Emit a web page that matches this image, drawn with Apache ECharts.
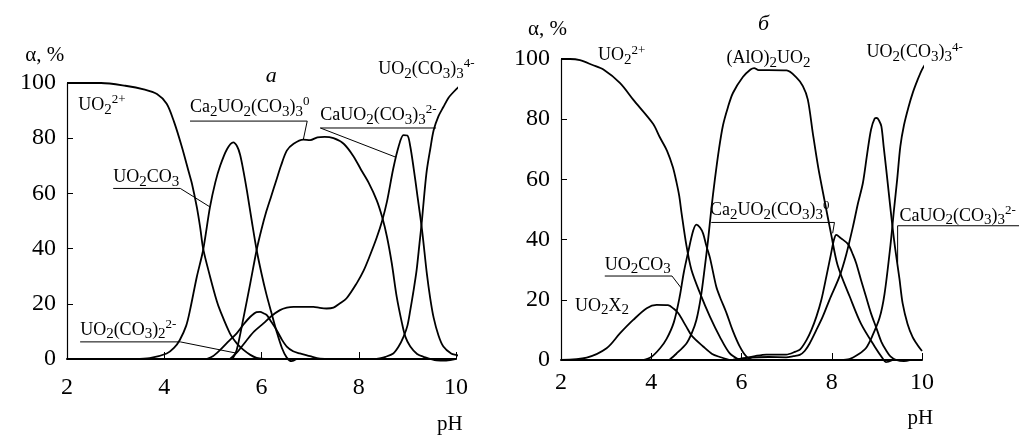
<!DOCTYPE html>
<html>
<head>
<meta charset="utf-8">
<script src="https://cdn.jsdelivr.net/npm/echarts@6/dist/echarts.min.js"></script>
<style>
html, body { margin: 0; padding: 0; background: #fff; }
#main { width: 1021px; height: 437px; }
</style>
</head>
<body>
<div id="main"></div>
<script>
// оси: pH и доля α, %
var xTicks = [2, 4, 6, 8, 10];
var yTicks = [0, 20, 40, 60, 80, 100];

// панель а  [pH, α]
var uo2_a = [[2,100],[2.7,100],[3.2,99],[3.6,97.6],[3.85,96],[4.05,92.5],[4.2,86],[4.36,77],[4.5,68],[4.57,63.5],[4.67,55],[4.74,47.5],[4.8,40],[4.94,30],[5.08,21],[5.15,17.5],[5.35,9.3],[5.5,5.5],[5.63,3.3],[5.77,1.5],[5.9,0.4],[6.05,0]];
var uo2co3_a = [[3.4,0],[3.7,0.3],[4.05,2],[4.2,4],[4.32,6.9],[4.45,12],[4.53,17.7],[4.67,29.8],[4.8,39.5],[4.94,55],[5.05,64],[5.15,70],[5.29,76],[5.42,78.5],[5.5,77],[5.56,74],[5.63,68],[5.7,61],[5.8,50],[5.9,39.5],[6.0,31],[6.1,23.5],[6.2,17],[6.31,10],[6.42,4],[6.52,0.5],[6.62,-0.8],[6.72,0]];
var uo2co32_a = [[4.87,0],[5.0,1],[5.15,3.3],[5.3,6],[5.49,9.3],[5.63,12.5],[5.77,15.3],[5.9,17],[5.97,17.1],[6.05,16.5],[6.11,15.9],[6.2,13.5],[6.31,10.5],[6.42,7],[6.52,4.5],[6.65,2.8],[6.79,2],[7.0,1],[7.14,0.3],[7.3,0]];
var ca2_a = [[5.4,0],[5.49,3.3],[5.63,15],[5.77,27.5],[5.9,39.5],[6.0,47],[6.1,53.5],[6.2,59],[6.3,64.5],[6.4,70],[6.52,75.5],[6.66,78],[6.86,79.5],[7.0,79.3],[7.15,80.3],[7.3,80.5],[7.48,80],[7.69,78],[7.89,73.5],[8.05,68.5],[8.2,64],[8.37,57.5],[8.48,51.5],[8.58,44.3],[8.68,34.6],[8.78,22.6],[8.89,12.9],[8.96,8],[9.06,4.5],[9.2,1.8],[9.33,0.8],[9.6,-0.5],[9.8,-0.6],[10.0,0]];
var cauo2_a = [[5.35,0],[5.5,2.5],[5.7,6.9],[5.85,10],[6.04,12.9],[6.2,15.5],[6.38,17.7],[6.52,18.6],[6.66,18.9],[7.07,18.9],[7.2,18.5],[7.34,18.3],[7.48,18.6],[7.6,20],[7.75,22],[7.96,27.5],[8.1,32],[8.23,37.5],[8.37,44],[8.48,50],[8.58,57],[8.71,69],[8.82,77],[8.92,81.1],[9.0,81],[9.06,77],[9.13,69],[9.2,60],[9.3,47],[9.4,31],[9.47,22],[9.54,15],[9.64,8.5],[9.74,4.5],[9.9,2],[10.02,1.4],[10.12,0.6],[10.22,0]];
var uo2co33_a = [[8.37,0],[8.55,0.8],[8.71,2],[8.82,4.5],[8.92,8],[9.0,12],[9.06,17.7],[9.12,24],[9.19,32.2],[9.25,42],[9.3,50.3],[9.35,60],[9.4,68.4],[9.47,76],[9.54,82.9],[9.64,88],[9.74,91.3],[9.84,94.5],[9.92,96.2],[10.05,98.5],[10.12,99.3]];

// панель б
var uo2_b = [[2,100],[2.2,100],[2.42,99.6],[2.7,98],[2.94,96.5],[3.31,92],[3.6,86.5],[4.04,78.5],[4.19,74],[4.35,69.5],[4.48,64],[4.56,59],[4.62,54.5],[4.67,49],[4.78,38],[4.89,30],[5.08,22.2],[5.3,14.4],[5.52,7.7],[5.74,2.2],[5.96,0]];
var uo2x2_b = [[2,0],[2.57,0.8],[3.01,3.9],[3.31,8.9],[3.6,13.3],[3.9,17.2],[4.12,18.3],[4.37,18.2],[4.5,17],[4.6,15.5],[4.78,11],[4.9,8],[5.15,4.5],[5.35,2],[5.52,1],[5.74,0]];
var uo2co3_b = [[3.82,0],[4.0,1],[4.2,4],[4.34,7],[4.5,12.5],[4.63,21],[4.72,29],[4.82,36],[4.93,43],[5.0,45],[5.08,44],[5.15,42],[5.22,38],[5.3,34],[5.44,24.4],[5.52,21],[5.67,15.5],[5.8,10],[5.96,4.5],[6.11,1.1],[6.25,0]];
var alo_b = [[4.4,0],[4.55,2],[4.78,5.5],[4.9,9],[5.0,13.3],[5.1,21],[5.18,30],[5.26,40],[5.33,50],[5.41,60],[5.5,70],[5.59,78],[5.7,84],[5.81,88.7],[6.03,94],[6.2,96.5],[6.28,97],[6.38,96.3],[6.6,96.3],[7.0,96.2],[7.21,94],[7.36,91],[7.47,86.5],[7.58,75.4],[7.7,64],[7.84,53],[7.99,41.5],[8.13,31.5],[8.4,21],[8.65,12],[8.95,4.5],[9.13,0.5],[9.2,-0.7],[9.35,0]];
var ca2_b = [[5.8,0],[6.03,0.5],[6.3,1.3],[6.55,1.8],[6.99,1.8],[7.2,2.8],[7.3,3.5],[7.44,6.6],[7.55,10],[7.66,14.4],[7.77,20],[7.88,27.7],[7.98,35],[8.05,40],[8.1,41.6],[8.2,40.5],[8.36,38.5],[8.47,35],[8.54,32.2],[8.65,26.5],[8.76,21],[8.87,15.5],[8.98,11],[9.1,6],[9.2,3.3],[9.3,1.2],[9.43,0],[9.6,-0.4],[9.75,0]];
var cauo2_b = [[5.8,0],[6.2,0.8],[6.6,1],[6.99,0.9],[7.15,1.3],[7.29,1.7],[7.4,3],[7.51,5.5],[7.66,10],[7.8,14.4],[7.95,20],[8.17,27.7],[8.32,35],[8.47,44.3],[8.58,52],[8.69,58.8],[8.78,68],[8.87,76.5],[8.95,80.2],[9.0,80.4],[9.05,79.5],[9.1,77.6],[9.15,71],[9.2,64.3],[9.26,56],[9.32,47.7],[9.38,40],[9.43,34.4],[9.5,27],[9.57,18.9],[9.68,12],[9.79,7.7],[9.9,5],[10.0,3]];
var uo2co33_b = [[8.2,0],[8.39,0.3],[8.6,2],[8.76,4],[8.9,8],[9.06,14],[9.17,22],[9.3,38],[9.38,50],[9.45,60],[9.52,71],[9.6,78],[9.7,84],[9.8,89],[9.9,93],[10.0,96.5],[10.09,98.7]];

var FONT = 'Liberation Serif';

function curve(name, data, g) {
    return {
        name: name, type: 'line', xAxisIndex: g, yAxisIndex: g,
        data: data, symbol: 'none', smooth: 0.3, clip: false, silent: true,
        lineStyle: { color: '#000', width: 1.8 }
    };
}

function xAx(g, margin) {
    return {
        gridIndex: g, type: 'value', min: 2, max: 10, interval: 2,
        axisLine: { show: true, onZero: false, lineStyle: { color: '#000', width: 2 } },
        axisTick: { show: true, inside: true, length: 7, lineStyle: { color: '#000', width: 1 } },
        axisLabel: { color: '#000', fontFamily: FONT, fontSize: 24, margin: margin },
        splitLine: { show: false }
    };
}
function yAx(g) {
    return {
        gridIndex: g, type: 'value', min: 0, max: 100, interval: 20,
        axisLine: { show: true, lineStyle: { color: '#000', width: 1.2 } },
        axisTick: { show: true, inside: true, length: 6, lineStyle: { color: '#000', width: 1 } },
        axisLabel: { color: '#000', fontFamily: FONT, fontSize: 24, margin: 11 },
        splitLine: { show: false }
    };
}

var chart = echarts.init(document.getElementById('main'));
chart.setOption({
    animation: false,
    backgroundColor: '#fff',
    grid: [
        { left: 67, top: 83, width: 389, height: 276 },
        { left: 561, top: 59, width: 361, height: 301 }
    ],
    xAxis: [xAx(0, 17), xAx(1, 11)],
    yAxis: [yAx(0), yAx(1)],
    series: [
        curve('UO2 2+', uo2_a, 0),
        curve('UO2CO3', uo2co3_a, 0),
        curve('UO2(CO3)2 2-', uo2co32_a, 0),
        curve('Ca2UO2(CO3)3', ca2_a, 0),
        curve('CaUO2(CO3)3 2-', cauo2_a, 0),
        curve('UO2(CO3)3 4-', uo2co33_a, 0),
        curve('UO2 2+', uo2_b, 1),
        curve('UO2X2', uo2x2_b, 1),
        curve('UO2CO3', uo2co3_b, 1),
        curve('(AlO)2UO2', alo_b, 1),
        curve('Ca2UO2(CO3)3', ca2_b, 1),
        curve('CaUO2(CO3)3 2-', cauo2_b, 1),
        curve('UO2(CO3)3 4-', uo2co33_b, 1)
    ]
});

// подписи: at - левый край текста (в координатах pH, α), line - подчёркивание и выноска
var rich = {
    n: { fontFamily: FONT, fontSize: 18, lineHeight: 24, fill: '#000' },
    s: { fontFamily: FONT, fontSize: 15, verticalAlign: 'bottom', fill: '#000' },
    p: { fontFamily: FONT, fontSize: 13, verticalAlign: 'top', fill: '#000' },
    t: { fontFamily: FONT, fontSize: 21, lineHeight: 24, fill: '#000' },
    i: { fontFamily: FONT, fontSize: 22, fontStyle: 'italic', lineHeight: 24, fill: '#000' }
};
var notes = [
    { g: 0, text: '{t|α, %}', at: [1.14, 110] },
    { g: 0, text: '{i|а}', at: [6.2, 102.4], align: 'center' },
    { g: 0, text: '{n|UO}{s|2}{p|2+}', at: [2.23, 91.9] },
    { g: 0, text: '{n|Ca}{s|2}{n|UO}{s|2}{n|(CO}{s|3}{n|)}{s|3}{p|0}', at: [4.53, 91.2], line: [[4.53, 86.2], [6.94, 86.2], [6.86, 79.5]] },
    { g: 0, text: '{n|CaUO}{s|2}{n|(CO}{s|3}{n|)}{s|3}{p|2-}', at: [7.21, 88.3], line: [[9.59, 83.7], [7.21, 83.7], [8.75, 73.2]] },
    { g: 0, text: '{n|UO}{s|2}{n|CO}{s|3}', at: [2.95, 65.9], line: [[2.95, 61.8], [4.33, 61.8], [4.94, 55.1]] },
    { g: 0, text: '{n|UO}{s|2}{n|(CO}{s|3}{n|)}{s|2}{p|2-}', at: [2.27, 10.5], line: [[2.27, 6.2], [4.33, 6.2], [5.49, 2.1]] },
    { g: 0, text: '{n|UO}{s|2}{n|(CO}{s|3}{n|)}{s|3}{p|4-}', at: [8.4, 105] },
    { g: 0, text: '{t|pH}', at: [9.61, -23.9] },
    { g: 1, text: '{t|α, %}', at: [1.27, 109.7] },
    { g: 1, text: '{i|б}', at: [6.49, 111.7], align: 'center' },
    { g: 1, text: '{n|UO}{s|2}{p|2+}', at: [2.82, 101.1] },
    { g: 1, text: '{n|(AlO)}{s|2}{n|UO}{s|2}', at: [5.67, 100.1] },
    { g: 1, text: '{n|UO}{s|2}{n|(CO}{s|3}{n|)}{s|3}{p|4-}', at: [8.77, 102.1] },
    { g: 1, text: '{n|UO}{s|2}{n|CO}{s|3}', at: [2.97, 31.6], line: [[2.97, 27.9], [4.46, 27.9], [4.67, 23.8]] },
    { g: 1, text: '{n|UO}{s|2}{n|X}{s|2}', at: [2.31, 18] },
    { g: 1, text: '{n|Ca}{s|2}{n|UO}{s|2}{n|(CO}{s|3}{n|)}{s|3}{p|0}', at: [5.3, 49.6], line: [[5.33, 45.7], [8.06, 45.7], [8.02, 42.1]] },
    { g: 1, text: '{n|CaUO}{s|2}{n|(CO}{s|3}{n|)}{s|3}{p|2-}', at: [9.5, 47.9], line: [[12.15, 44.6], [9.46, 44.6], [9.46, 32.3]] },
    { g: 1, text: '{t|pH}', at: [9.68, -19.3] }
];

var graphic = [];
notes.forEach(function (a) {
    var p = chart.convertToPixel({ gridIndex: a.g }, a.at);
    graphic.push({
        type: 'text', silent: true,
        style: {
            text: a.text, rich: rich, x: p[0], y: p[1],
            textAlign: a.align || 'left', textVerticalAlign: 'middle',
            align: a.align || 'left', verticalAlign: 'middle'
        }
    });
    if (a.line) {
        graphic.push({
            type: 'polyline', silent: true,
            shape: { points: a.line.map(function (q) { return chart.convertToPixel({ gridIndex: a.g }, q); }) },
            style: { stroke: '#000', lineWidth: 1, fill: null }
        });
    }
});
chart.setOption({ graphic: graphic });
</script>
</body>
</html>
